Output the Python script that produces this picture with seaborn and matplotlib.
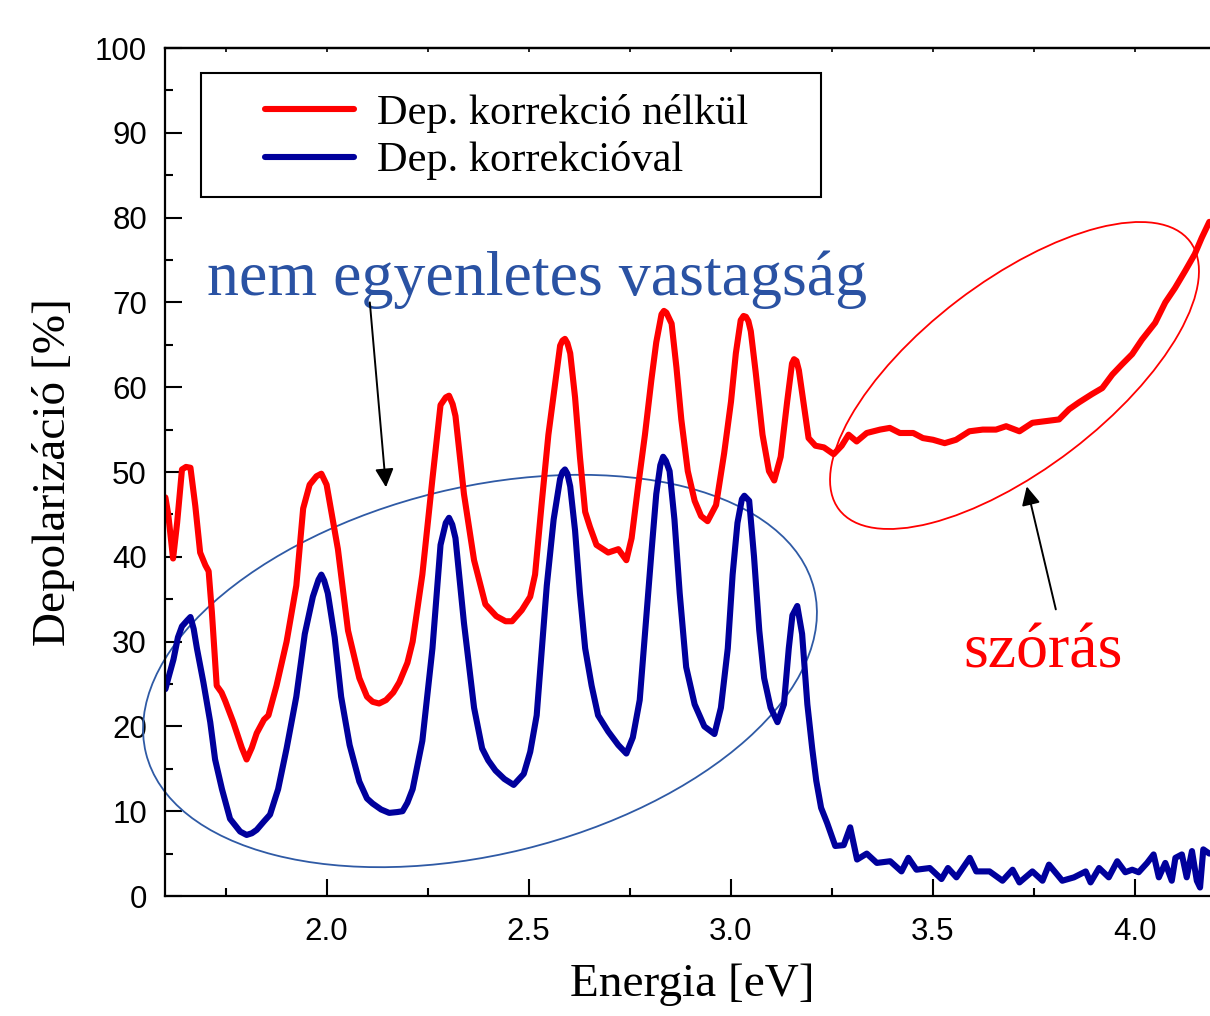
import matplotlib
matplotlib.use("Agg")
import seaborn as sns
import matplotlib.pyplot as plt
from matplotlib.patches import Ellipse, Rectangle
from matplotlib.transforms import IdentityTransform
from matplotlib.ticker import MultipleLocator, FormatStrFormatter

energy_red = [1.601, 1.608, 1.620, 1.630, 1.642, 1.652, 1.663, 1.675, 1.687, 1.700,
              1.708, 1.716, 1.728, 1.740, 1.749, 1.769, 1.790, 1.802, 1.815, 1.827,
              1.845, 1.856, 1.876, 1.901, 1.925, 1.942, 1.958, 1.975, 1.987, 2.000,
              2.007, 2.028, 2.053, 2.081, 2.100, 2.114, 2.130, 2.147, 2.165, 2.180,
              2.200, 2.213, 2.237, 2.262, 2.282, 2.295, 2.303, 2.312, 2.319, 2.340,
              2.365, 2.393, 2.420, 2.443, 2.459, 2.483, 2.504, 2.516, 2.533, 2.549,
              2.566, 2.578, 2.584, 2.590, 2.596, 2.603, 2.615, 2.627, 2.640, 2.652,
              2.668, 2.697, 2.722, 2.742, 2.755, 2.771, 2.788, 2.804, 2.816, 2.829,
              2.835, 2.841, 2.854, 2.866, 2.878, 2.894, 2.911, 2.927, 2.943, 2.964,
              2.984, 3.001, 3.013, 3.025, 3.032, 3.038, 3.044, 3.050, 3.062, 3.079,
              3.095, 3.108, 3.124, 3.140, 3.152, 3.157, 3.163, 3.169, 3.181, 3.193,
              3.210, 3.231, 3.255, 3.275, 3.292, 3.312, 3.337, 3.370, 3.394, 3.419,
              3.452, 3.476, 3.501, 3.530, 3.558, 3.591, 3.624, 3.657, 3.682, 3.715,
              3.747, 3.780, 3.813, 3.838, 3.862, 3.895, 3.920, 3.945, 3.969, 3.994,
              4.018, 4.051, 4.076, 4.100, 4.125, 4.149, 4.166, 4.185]
depol_red = [47.0, 45.0, 39.8, 44.0, 50.3, 50.6, 50.5, 46.0, 40.5, 39.0,
             38.3, 33.5, 24.8, 24.0, 23.0, 20.5, 17.5, 16.1, 17.5, 19.2,
             20.8, 21.3, 24.8, 30.0, 36.6, 45.7, 48.5, 49.5, 49.8, 48.5,
             46.6, 40.9, 31.3, 25.7, 23.5, 22.9, 22.7, 23.1, 24.0, 25.2,
             27.5, 30.0, 37.9, 49.2, 57.9, 58.8, 59.0, 58.0, 56.6, 47.4,
             39.6, 34.4, 33.0, 32.4, 32.4, 33.7, 35.3, 37.9, 46.6, 54.4,
             60.5, 64.9, 65.5, 65.7, 65.2, 64.0, 58.8, 51.8, 45.3, 43.5,
             41.4, 40.5, 40.9, 39.6, 42.2, 48.3, 54.4, 60.9, 65.3, 68.6,
             69.0, 68.8, 67.5, 62.3, 56.2, 50.1, 46.6, 44.8, 44.2, 46.1,
             52.2, 58.3, 64.0, 67.9, 68.4, 68.3, 67.8, 66.6, 61.8, 54.4,
             50.1, 49.0, 51.8, 58.3, 62.8, 63.3, 63.1, 62.0, 58.0, 54.0,
             53.1, 52.9, 52.1, 53.1, 54.4, 53.6, 54.6, 55.0, 55.2, 54.6,
             54.6, 54.0, 53.8, 53.4, 53.8, 54.8, 55.0, 55.0, 55.4, 54.8,
             55.8, 56.0, 56.2, 57.4, 58.2, 59.2, 59.9, 61.5, 62.7, 63.9,
             65.6, 67.6, 70.0, 71.7, 73.7, 75.7, 77.6, 79.5]

energy_blue = [1.601, 1.610, 1.621, 1.632, 1.642, 1.655, 1.663, 1.671, 1.679, 1.695,
               1.712, 1.724, 1.741, 1.761, 1.786, 1.802, 1.815, 1.827, 1.845, 1.860,
               1.880, 1.901, 1.925, 1.946, 1.966, 1.980, 1.987, 1.994, 2.003, 2.020,
               2.036, 2.057, 2.081, 2.100, 2.114, 2.135, 2.155, 2.175, 2.188, 2.200,
               2.213, 2.237, 2.262, 2.282, 2.295, 2.303, 2.311, 2.319, 2.340, 2.365,
               2.385, 2.400, 2.418, 2.440, 2.463, 2.488, 2.504, 2.520, 2.533, 2.545,
               2.562, 2.578, 2.584, 2.590, 2.596, 2.603, 2.615, 2.627, 2.640, 2.656,
               2.672, 2.697, 2.722, 2.742, 2.758, 2.775, 2.788, 2.804, 2.816, 2.826,
               2.833, 2.840, 2.849, 2.861, 2.874, 2.890, 2.911, 2.935, 2.960, 2.976,
               2.993, 3.005, 3.017, 3.028, 3.034, 3.040, 3.046, 3.058, 3.071, 3.083,
               3.099, 3.116, 3.132, 3.144, 3.153, 3.165, 3.177, 3.190, 3.202, 3.212,
               3.224, 3.239, 3.259, 3.280, 3.296, 3.313, 3.337, 3.362, 3.395, 3.423,
               3.440, 3.460, 3.493, 3.522, 3.538, 3.559, 3.592, 3.608, 3.641, 3.673,
               3.698, 3.715, 3.747, 3.772, 3.788, 3.821, 3.850, 3.879, 3.891, 3.912,
               3.936, 3.957, 3.977, 3.994, 4.010, 4.031, 4.047, 4.060, 4.076, 4.092,
               4.101, 4.117, 4.129, 4.142, 4.154, 4.162, 4.170, 4.185]
depol_blue = [24.4, 26.0, 27.9, 30.5, 31.8, 32.5, 32.9, 31.5, 29.2, 25.2,
              20.5, 16.1, 12.6, 9.1, 7.6, 7.2, 7.4, 7.8, 8.8, 9.6,
              12.6, 17.4, 23.5, 30.9, 35.3, 37.3, 37.9, 37.2, 35.7, 30.5,
              23.5, 17.8, 13.5, 11.5, 10.9, 10.2, 9.8, 9.9, 10.0, 11.0,
              12.6, 18.3, 29.2, 41.4, 44.0, 44.6, 43.8, 42.2, 32.2, 22.2,
              17.4, 16.0, 14.8, 13.8, 13.1, 14.4, 17.0, 21.3, 29.2, 36.6,
              44.4, 49.2, 50.0, 50.3, 49.8, 48.3, 43.1, 35.7, 29.2, 24.8,
              21.3, 19.4, 17.8, 16.8, 18.7, 23.1, 30.9, 40.5, 47.4, 50.8,
              51.8, 51.3, 50.1, 44.4, 35.7, 27.0, 22.6, 20.0, 19.1, 22.2,
              29.2, 37.9, 44.0, 46.8, 47.2, 46.9, 46.6, 40.0, 31.3, 25.7,
              22.2, 20.5, 22.6, 29.2, 33.1, 34.2, 30.9, 22.6, 17.4, 13.6,
              10.4, 8.6, 5.9, 6.0, 8.1, 4.3, 5.0, 3.9, 4.1, 2.9,
              4.5, 3.1, 3.3, 2.0, 3.3, 2.2, 4.5, 2.9, 2.9, 1.8,
              3.1, 1.6, 2.9, 1.8, 3.7, 1.8, 2.2, 2.9, 1.6, 3.3,
              2.2, 4.1, 2.8, 3.1, 2.8, 3.9, 4.9, 2.2, 3.9, 1.8,
              4.5, 4.9, 2.2, 5.3, 1.8, 1.0, 5.5, 5.0]

label_red = "Dep. korrekció nélkül"
label_blue = "Dep. korrekcióval"
x_ticks = [2.0, 2.5, 3.0, 3.5, 4.0]
y_ticks = [0, 10, 20, 30, 40, 50, 60, 70, 80, 90, 100]

sns.set_style("ticks")
plt.rcParams["font.family"] = ["Liberation Serif", "DejaVu Serif"]
plt.rcParams["text.color"] = "black"
plt.rcParams["axes.labelcolor"] = "black"

W, H = 1210, 1016
fig = plt.figure(figsize=(W / 100, H / 100), dpi=100)
ax = fig.add_axes([165 / W, 120 / H, 1055 / W, 848 / H])

sns.lineplot(x=energy_red, y=depol_red, color="#ff0000", linewidth=4.4, label=label_red,
             ax=ax, solid_joinstyle="round")
sns.lineplot(x=energy_blue, y=depol_blue, color="#00009c", linewidth=4.4, label=label_blue,
             ax=ax, solid_joinstyle="round")

ax.set_xlim(1.6, 1.6 + 1055 / 404)
ax.set_ylim(0, 100)
ax.set_xticks(x_ticks)
ax.set_yticks(y_ticks)
ax.xaxis.set_major_formatter(FormatStrFormatter("%.1f"))
ax.xaxis.set_minor_locator(MultipleLocator(0.25))
ax.yaxis.set_minor_locator(MultipleLocator(5))
ax.tick_params(which="both", direction="in", width=1.5, colors="black",
               labelsize=22.5, labelfontfamily="Liberation Sans")
ax.tick_params(which="major", length=12)
ax.tick_params(which="minor", length=6)
ax.tick_params(axis="y", pad=13)
ax.tick_params(axis="x", pad=15)
for side in ["left", "bottom", "top"]:
    ax.spines[side].set_linewidth(1.6)
    ax.spines[side].set_color("black")
ax.spines["right"].set_visible(False)

top = ax.secondary_xaxis("top")
top.set_xticks([1.75, 2.0, 2.25, 2.5, 2.75, 3.0, 3.25, 3.5, 3.75, 4.0])
top.tick_params(direction="in", length=3, width=1.2, labeltop=False, colors="black")
top.spines["top"].set_linewidth(1.6)
top.spines["top"].set_color("black")

ax.set_xlabel("Energia [eV]", fontsize=34, labelpad=12)
ax.set_ylabel("Depolarizáció [%]", fontsize=34, labelpad=14)

# legend with a square frame
ax.add_patch(Rectangle((36 / 1055, 1 - 149 / 848), 620 / 1055, 124 / 848,
                       transform=ax.transAxes, fill=False, ec="black", lw=1.5, zorder=4))
ax.legend(loc="upper left", bbox_to_anchor=(100 / 1055, 1 - 46 / 848), frameon=False,
          fontsize=30.5, handlelength=2.09, handletextpad=0.55, borderpad=0,
          borderaxespad=0, labelspacing=0.2, labelcolor="black")

# annotations
ax.text(1.704, 70.9, "nem egyenletes vastagság", color="#2a52a3", fontsize=46, va="baseline")
ax.text(3.575, 26.9, "szórás", color="#ff0000", fontsize=46, va="baseline")
arrow = dict(arrowstyle="-|>", color="black", lw=1.4, mutation_scale=28, shrinkA=0, shrinkB=0)
ax.annotate("", xy=(2.147, 48.2), xytext=(2.107, 70.0), arrowprops=arrow)
ax.annotate("", xy=(3.733, 48.3), xytext=(3.805, 33.8), arrowprops=arrow)

ax.add_patch(Ellipse((480, H - 671), 688, 367, angle=13.8, transform=IdentityTransform(),
                     fill=False, ec="#2f5aa5", lw=1.3, clip_on=False))
ax.add_patch(Ellipse((1014.5, H - 375.5), 441.6, 188, angle=37.4, transform=IdentityTransform(),
                     fill=False, ec="#ff0000", lw=1.3, clip_on=False))

fig.savefig("out.png", dpi=100)
